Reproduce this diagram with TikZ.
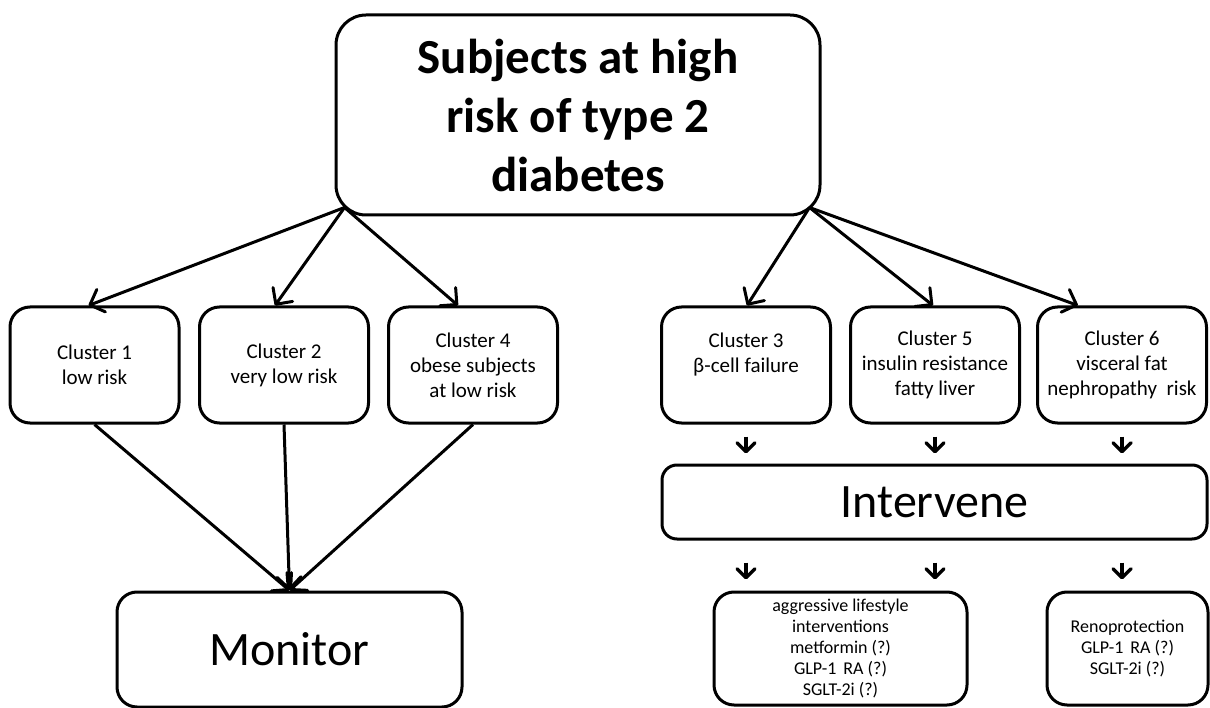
\documentclass[tikz,border=0pt]{standalone}
\usepackage{fontspec}
\setmainfont{Carlito}
\usetikzlibrary{arrows.meta}

\begin{document}
\begin{tikzpicture}[x=1pt,y=-1pt,
    box/.style={draw,line width=3pt,rounded corners=20pt,align=center,inner sep=0pt,
      minimum width=169pt,minimum height=116pt,font=\fontsize{21}{25}\selectfont},
    bigbox/.style={box,font=\fontsize{48}{56}\selectfont},
    smallbox/.style={box,minimum width=253pt,minimum height=113pt,font=\fontsize{18}{21}\selectfont},
    link/.style={line width=3pt,-{Straight Barb[length=12pt,width=24pt,line width=3pt,round]}},
    tick/.style={line width=3.5pt,-{Straight Barb[length=9pt,width=18pt,line width=3.5pt,round]}}]

    \useasboundingbox (0,0) rectangle (1210,708);

    % Top box
    \node[box,minimum width=484pt,minimum height=200pt,rounded corners=30pt,
      font=\bfseries\fontsize{49}{59}\selectfont] (top) at (578,115)
      {Subjects at high\\ risk of type 2\\ diabetes};

    % Clusters
    \node[box] (c1) at (94.5,365) {Cluster 1\\ low risk};
    \node[box] (c2) at (284,365) {Cluster 2\\ very low risk};
    \node[box] (c4) at (473,365) {Cluster 4\\ obese subjects\\ at low risk};
    \node[box] (c3) at (746,365) {Cluster 3\\ β-cell failure\\ \mbox{}};
    \node[box] (c5) at (935,365) {Cluster 5\\ insulin resistance\\ fatty liver};
    \node[box] (c6) at (1122,365) {Cluster 6\\ visceral fat\\ nephropathy\ \ risk};

    % Outcomes
    \node[bigbox,minimum width=345pt,minimum height=115pt] (mon) at (289.5,649.5) {Monitor};
    \node[bigbox,minimum width=545pt,minimum height=74pt,rounded corners=15pt] (iv) at (934.5,502) {Intervene};
    \node[smallbox] (aggr) at (840.5,648.5)
      {aggressive lifestyle\\ interventions\\ metformin (?)\\ GLP-1\ \,RA (?)\\ SGLT-2i (?)};
    \node[smallbox,minimum width=161pt] (reno) at (1127.5,648.5)
      {Renoprotection\\ GLP-1\ \,RA (?)\\ SGLT-2i (?)};

    % Arrows from the top box
    \coordinate (tl) at ([xshift=10pt,yshift=9pt]top.south west);
    \coordinate (tr) at ([xshift=-12pt,yshift=9pt]top.south east);
    \foreach \c/\dx in {c1/-6,c2/-9,c4/-15}
        \draw[link] (tl) -- ([xshift=\dx pt]\c.north);
    \foreach \c/\dx in {c3/1,c5/-2,c6/-44}
        \draw[link] (tr) -- ([xshift=\dx pt]\c.north);

    % Low risk clusters to Monitor
    \foreach \c in {c1,c2,c4}
        \draw[link] (\c.south) -- (mon.north);

    % Short arrows around Intervene
    \foreach \c in {c3,c5,c6}
        \draw[tick,shorten <=12pt,shorten >=10pt] (\c.south) -- (\c.south |- iv.north);
    \foreach \c/\b in {c3/aggr,c5/aggr,c6/reno}
        \draw[tick,shorten <=22pt,shorten >=11pt] (\c.south |- iv.south) -- (\c.south |- \b.north);

\end{tikzpicture}
\end{document}
